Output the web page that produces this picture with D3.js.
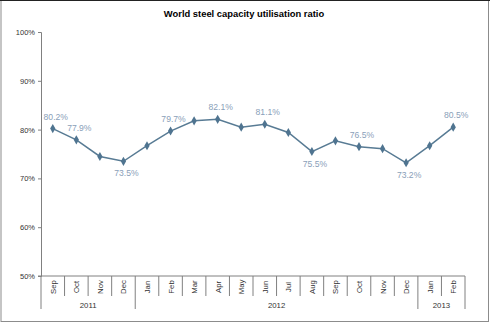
<!DOCTYPE html>
<html>
<head>
<meta charset="utf-8">
<script src="https://cdn.jsdelivr.net/npm/d3@7"></script>
<style>
  body { margin: 0; background: #fff; }
  svg { font-family: Arial, "Liberation Sans", sans-serif; display: block; }
  .tick text { fill: #333; font-size: 7.5px; }
</style>
</head>
<body>
<div id="chart"></div>
<script>
const months = ["Sep", "Oct", "Nov", "Dec", "Jan", "Feb", "Mar", "Apr", "May", "Jun", "Jul", "Aug", "Sep", "Oct", "Nov", "Dec", "Jan", "Feb"];
const years = ["2011", "2011", "2011", "2011", "2012", "2012", "2012", "2012", "2012", "2012", "2012", "2012", "2012", "2012", "2012", "2012", "2013", "2013"];
const utilisation = [80.2, 77.9, 74.5, 73.5, 76.7, 79.7, 81.8, 82.1, 80.5, 81.1, 79.4, 75.5, 77.7, 76.5, 76.1, 73.2, 76.7, 80.5];
// which points carry a value label, and where
const labelPos = ["above", "above", null, "below", null, "above", null, "above", null, "above", null, "below", null, "above", null, "below", null, "above"];
const yTicks = [50, 60, 70, 80, 90, 100];

const width = 490, height = 323;
const margin = { top: 32, right: 25, bottom: 47, left: 41 };
const innerWidth = width - margin.left - margin.right;
const innerHeight = height - margin.top - margin.bottom;

const svg = d3.select("#chart").append("svg")
  .attr("width", width)
  .attr("height", height);

// outer frame
svg.append("rect")
  .attr("x", 1).attr("y", 0.5)
  .attr("width", width - 2.5).attr("height", height - 2)
  .attr("fill", "none").attr("stroke", "#8c8c8c");
svg.append("line")
  .attr("x1", 0).attr("x2", width).attr("y1", 0.5).attr("y2", 0.5)
  .attr("stroke", "#222");

svg.append("text")
  .attr("x", 244).attr("y", 17)
  .attr("text-anchor", "middle")
  .attr("font-size", "9.4px").attr("font-weight", "bold")
  .attr("fill", "#000")
  .text("World steel capacity utilisation ratio");

const chart = svg.append("g")
  .attr("transform", `translate(${margin.left},${margin.top})`);

const data = months.map((m, i) => ({ i, month: m, year: years[i], value: utilisation[i], pos: labelPos[i] }));

const x = d3.scaleBand()
  .domain(d3.range(months.length))
  .range([0, innerWidth]);

const y = d3.scaleLinear()
  .domain([50, 100])
  .range([innerHeight, 0]);

// y axis
const yAxis = chart.append("g")
  .call(d3.axisLeft(y).tickValues(yTicks).tickSize(3).tickFormat(d => d + "%"));
yAxis.select(".domain").attr("stroke", "#808080");
yAxis.selectAll(".tick line").attr("stroke", "#808080");
yAxis.selectAll(".tick text").attr("x", -6);

// x axis baseline
chart.append("line")
  .attr("x1", -3).attr("x2", innerWidth)
  .attr("y1", innerHeight).attr("y2", innerHeight)
  .attr("stroke", "#808080");

// month separators
const bounds = d3.range(months.length + 1);
chart.selectAll(".msep")
  .data(bounds)
  .enter().append("line")
  .attr("class", "msep")
  .attr("x1", d => d < months.length ? x(d) : innerWidth)
  .attr("x2", d => d < months.length ? x(d) : innerWidth)
  .attr("y1", innerHeight)
  .attr("y2", d => (d === 0 || d === months.length || years[d] !== years[d - 1]) ? innerHeight + 33 : innerHeight + 20)
  .attr("stroke", "#808080");

// month labels
chart.selectAll(".mlabel")
  .data(data)
  .enter().append("text")
  .attr("class", "mlabel")
  .attr("transform", d => `translate(${x(d.i) + x.bandwidth() / 2 + 3},${innerHeight + 11}) rotate(-90)`)
  .attr("text-anchor", "middle")
  .attr("font-size", "7.8px")
  .attr("fill", "#333")
  .text(d => d.month);

// year labels
const yearGroups = d3.groups(data, d => d.year).map(([yr, items]) => ({
  yr, first: items[0].i, last: items[items.length - 1].i
}));
chart.selectAll(".ylabel")
  .data(yearGroups)
  .enter().append("text")
  .attr("class", "ylabel")
  .attr("x", d => (x(d.first) + x(d.last) + x.bandwidth()) / 2)
  .attr("y", innerHeight + 32)
  .attr("text-anchor", "middle")
  .attr("font-size", "7.8px")
  .attr("fill", "#333")
  .text(d => d.yr);

// line
const cx = d => x(d.i) + x.bandwidth() / 2;
chart.append("path")
  .datum(data)
  .attr("fill", "none")
  .attr("stroke", "#587b94")
  .attr("stroke-width", 1.5)
  .attr("d", d3.line().x(cx).y(d => y(d.value)));

chart.selectAll(".marker")
  .data(data)
  .enter().append("path")
  .attr("class", "marker")
  .attr("transform", d => `translate(${cx(d)},${y(d.value)})`)
  .attr("d", d3.symbol().type(d3.symbolDiamond).size(24))
  .attr("fill", "#4f7490");

chart.selectAll(".vlabel")
  .data(data.filter(d => d.pos))
  .enter().append("text")
  .attr("class", "vlabel")
  .attr("x", d => cx(d) + 3)
  .attr("y", d => d.pos === "above" ? y(d.value) - 9 : y(d.value) + 15)
  .attr("text-anchor", "middle")
  .attr("font-size", "8.6px")
  .attr("fill", "#8aa0b9")
  .text(d => d.value.toFixed(1) + "%");
</script>
</body>
</html>
